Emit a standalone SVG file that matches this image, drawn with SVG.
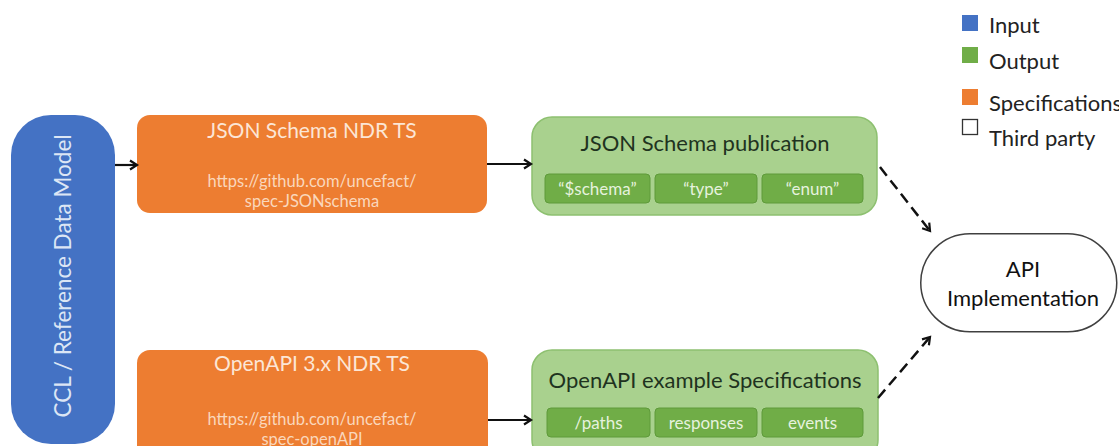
<svg xmlns="http://www.w3.org/2000/svg" width="1119" height="446" viewBox="0 0 1119 446">
  <style>
    text { font-family: Lato, "Open Sans", "Liberation Sans", sans-serif; }
    .input { fill: #4472C4; }
    .input-label { fill: #DCE6F5; font-size: 22.5px; }
    .spec { fill: #ED7D31; }
    .spec-title { fill: #FCE6D6; font-size: 21px; text-anchor: middle; }
    .spec-url { fill: #FAD7BC; font-size: 16.5px; text-anchor: middle; }
    .out { fill: #A9D18E; stroke: #8DC070; stroke-width: 1.5; }
    .out-title { fill: #1F3320; font-size: 22px; text-anchor: middle; }
    .chip { fill: #70AD47; stroke: #5E9A3A; stroke-width: 1; }
    .chip-text { fill: #E6F2DE; font-size: 17px; text-anchor: middle; }
    .third { fill: #FFFFFF; stroke: #404040; stroke-width: 1.5; }
    .third-text { fill: #111111; font-size: 22px; text-anchor: middle; }
    .legend-text { fill: #222222; font-size: 22px; }
    .link { stroke: #111111; stroke-width: 2.2; fill: none; }
    .dash { stroke-dasharray: 11 6; stroke-width: 2.5; }
  </style>
  <defs>
    <marker id="arrow" markerWidth="12" markerHeight="12" refX="9" refY="6" orient="auto" markerUnits="userSpaceOnUse">
      <path d="M2,1.5 L9,6 L2,10.5" fill="none" stroke="#111111" stroke-width="2.2"/>
    </marker>
  </defs>

  <!-- Legend -->
  <g id="legend">
    <rect x="962" y="15" width="16" height="16" class="input"/>
    <text x="989" y="33" class="legend-text">Input</text>
    <rect x="962" y="47" width="16" height="16" fill="#70AD47"/>
    <text x="989" y="69" class="legend-text">Output</text>
    <rect x="962" y="89" width="16" height="16" class="spec"/>
    <text x="989" y="111" class="legend-text">Specifications</text>
    <rect x="962.5" y="119.5" width="15" height="15" fill="#FFFFFF" stroke="#333333" stroke-width="1.3"/>
    <text x="989" y="146" class="legend-text">Third party</text>
  </g>

  <!-- Input: reference model -->
  <g id="ccl">
    <rect x="11" y="115" width="104" height="329" rx="40" ry="40" class="input"/>
    <text x="0" y="0" class="input-label" text-anchor="middle" transform="translate(71,276) rotate(-90)">CCL / Reference Data Model</text>
  </g>

  <!-- Specifications -->
  <g id="json-ndr">
    <rect x="137" y="115" width="350" height="98" rx="13" ry="13" class="spec"/>
    <text x="312" y="138" class="spec-title">JSON Schema NDR TS</text>
    <text x="312" y="187" class="spec-url">https://github.com/uncefact/</text>
    <text x="312" y="207" class="spec-url">spec-JSONschema</text>
  </g>
  <g id="openapi-ndr">
    <rect x="137" y="350" width="351" height="110" rx="13" ry="13" class="spec"/>
    <text x="312" y="371" class="spec-title">OpenAPI 3.x NDR TS</text>
    <text x="312" y="425" class="spec-url">https://github.com/uncefact/</text>
    <text x="312" y="445" class="spec-url">spec-openAPI</text>
  </g>

  <!-- Outputs -->
  <g id="json-publication">
    <rect x="532" y="117" width="345" height="98" rx="20" ry="20" class="out"/>
    <text x="705" y="151" class="out-title">JSON Schema publication</text>
    <rect x="545" y="174" width="105" height="29" rx="4" class="chip"/>
    <text x="597.5" y="195" class="chip-text">“$schema”</text>
    <rect x="655" y="174" width="102" height="29" rx="4" class="chip"/>
    <text x="706" y="195" class="chip-text">“type”</text>
    <rect x="762" y="174" width="101" height="29" rx="4" class="chip"/>
    <text x="812.5" y="195" class="chip-text">“enum”</text>
  </g>
  <g id="openapi-examples">
    <rect x="532" y="350" width="346" height="110" rx="20" ry="20" class="out"/>
    <text x="705" y="388" class="out-title">OpenAPI example Specifications</text>
    <rect x="547" y="408" width="103" height="29" rx="4" class="chip"/>
    <text x="598.5" y="429" class="chip-text">/paths</text>
    <rect x="655" y="408" width="102" height="29" rx="4" class="chip"/>
    <text x="706" y="429" class="chip-text">responses</text>
    <rect x="762" y="408" width="101" height="29" rx="4" class="chip"/>
    <text x="812.5" y="429" class="chip-text">events</text>
  </g>

  <!-- Third party -->
  <g id="api-implementation">
    <rect x="920.75" y="233.75" width="196" height="98" rx="49" ry="49" class="third"/>
    <text x="1023" y="277" class="third-text">API</text>
    <text x="1023" y="306" class="third-text">Implementation</text>
  </g>

  <!-- Connectors -->
  <g id="connectors">
    <line x1="115" y1="165" x2="137" y2="165" class="link" marker-end="url(#arrow)"/>
    <line x1="487" y1="164" x2="531" y2="164" class="link" marker-end="url(#arrow)"/>
    <line x1="488" y1="420" x2="531" y2="420" class="link" marker-end="url(#arrow)"/>
    <line x1="880" y1="167" x2="930" y2="231" class="link dash" marker-end="url(#arrow)"/>
    <line x1="878" y1="398" x2="930" y2="337" class="link dash" marker-end="url(#arrow)"/>
  </g>
</svg>
